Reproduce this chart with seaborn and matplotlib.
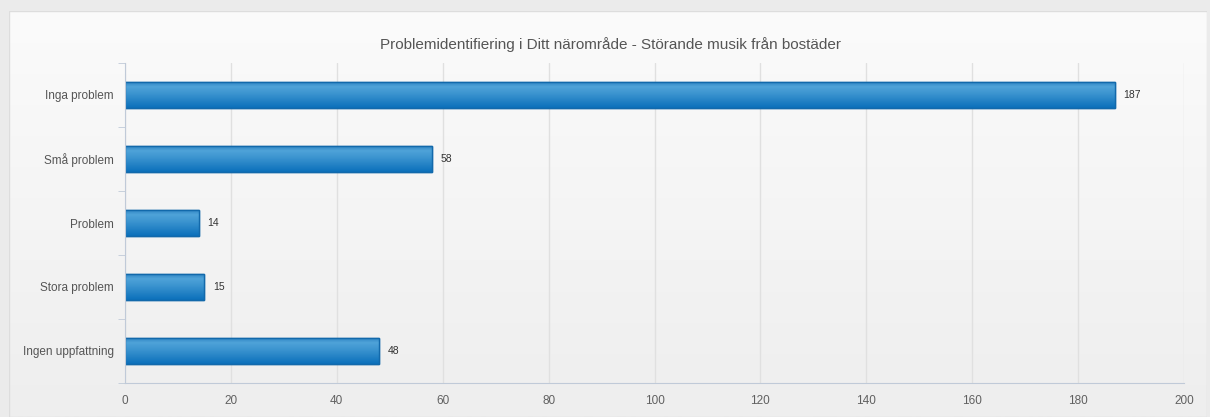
import numpy as np
import pandas as pd
import seaborn as sns
import matplotlib.pyplot as plt
from matplotlib.colors import LinearSegmentedColormap
from matplotlib.patches import Rectangle

kategorier = ['Inga problem', 'Små problem', 'Problem', 'Stora problem', 'Ingen uppfattning']
antal = [187, 58, 14, 15, 48]
xticks = [0, 20, 40, 60, 80, 100, 120, 140, 160, 180, 200]
titel = 'Problemidentifiering i Ditt närområde - Störande musik från bostäder'

df = pd.DataFrame({'kategori': kategorier, 'antal': antal})

sns.set_style('white')
plt.rcParams['font.family'] = ['Liberation Sans', 'DejaVu Sans']

fig = plt.figure(figsize=(12.1, 4.17), dpi=100, facecolor='#ebebeb')

# panel med svag gradient
bg = fig.add_axes([9 / 1210, 0, 1198 / 1210, 406 / 417])
grad = np.linspace(0, 1, 256).reshape(-1, 1)
bg.imshow(grad, aspect='auto', cmap=LinearSegmentedColormap.from_list('p', ['#fbfbfb', '#eeeeee']),
          extent=[0, 1, 0, 1])
bg.add_patch(Rectangle((0, 0), 1, 1, fill=False, edgecolor='#dddddd', lw=1, transform=bg.transAxes))
bg.set_axis_off()

ax = fig.add_axes([125 / 1210, 34 / 417, 1059 / 1210, 320 / 417])
ax.patch.set_alpha(0)
sns.barplot(data=df, y='kategori', x='antal', orient='h', ax=ax, color='#2a87c9',
            edgecolor='#1269ab', linewidth=1, width=0.41, saturation=1)

# gradient i staplarna
bar_cmap = LinearSegmentedColormap.from_list(
    'b', [(0, '#2a80c0'), (0.2, '#4fa3d9'), (0.45, '#3d95d0'), (1, '#0b70bb')])
stap = np.linspace(0, 1, 64).reshape(-1, 1)
for bar in list(ax.patches):
    x0, y0, w, h = bar.get_x(), bar.get_y(), bar.get_width(), bar.get_height()
    im = ax.imshow(stap, cmap=bar_cmap, aspect='auto', extent=[x0, x0 + w, y0 + h, y0],
                   zorder=bar.get_zorder() + 0.1, interpolation='bilinear')
    im.set_clip_path(bar)
    ax.add_patch(Rectangle((x0, y0), w, h, fill=False, edgecolor='#1269ab', lw=1,
                           zorder=bar.get_zorder() + 0.2))

for i, v in enumerate(antal):
    ax.text(v + 1.6, i, str(v), va='center', ha='left', fontsize=7.5, color='#333333')

ax.set_xlim(0, 200)
ax.set_ylim(4.5, -0.5)
ax.set_aspect('auto')
ax.set_xticks(xticks)
ax.set_xticklabels([str(t) for t in xticks], fontsize=8.5, color='#606060')
ax.set_yticks(range(len(kategorier)))
ax.set_yticklabels(kategorier, fontsize=8.5, color='#555555')
ax.tick_params(axis='y', length=0, pad=8)
ax.tick_params(axis='x', length=5, color='#c0cad8', pad=4)
ax.set_yticks(np.arange(-0.5, 5, 1), minor=True)
ax.tick_params(axis='y', which='minor', length=5, color='#c0cad8', left=True)
ax.set_xlabel('')
ax.set_ylabel('')
ax.grid(axis='x', color='#e0e0e0', lw=1)
ax.set_axisbelow(True)
for s in ['top', 'right']:
    ax.spines[s].set_visible(False)
ax.spines['left'].set_color('#c0cad8')
ax.spines['bottom'].set_color('#c0cad8')

fig.text(611 / 1210, 1 - 45 / 417, titel, ha='center', va='center', fontsize=11, color='#555555')

fig.savefig('out.png', dpi=100, facecolor=fig.get_facecolor())
